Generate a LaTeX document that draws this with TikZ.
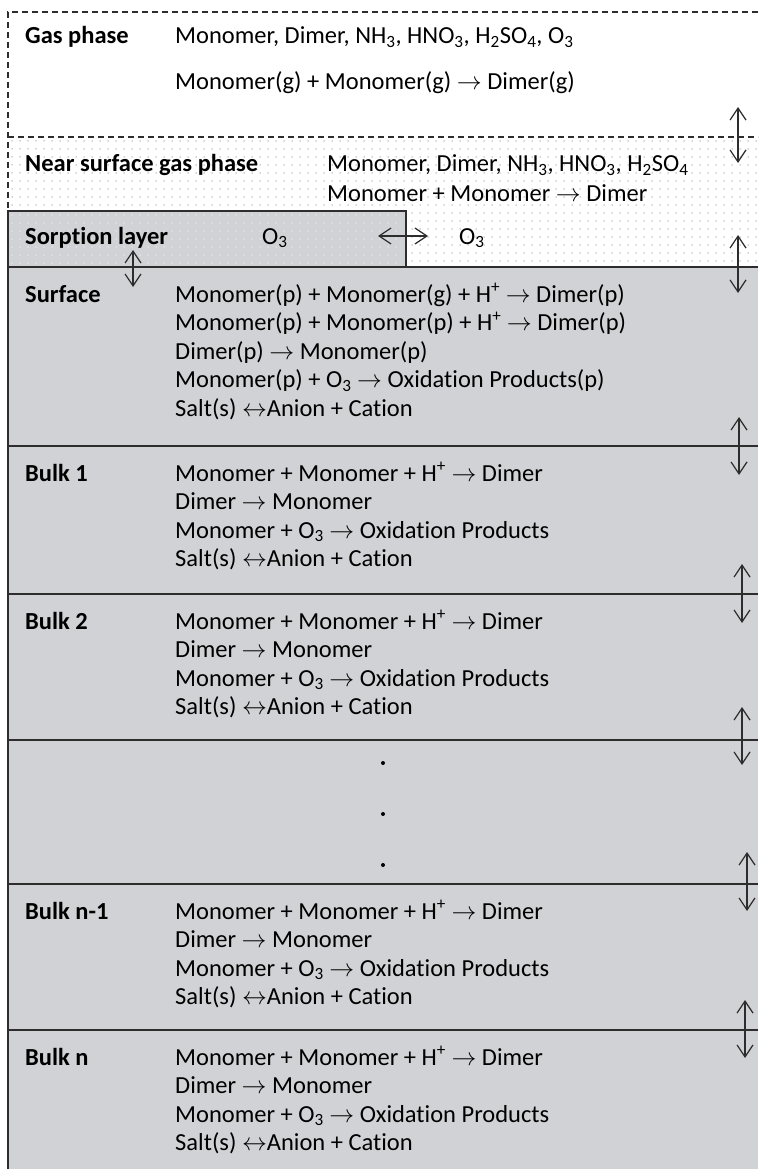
\documentclass[tikz,border=0pt]{standalone}
\usepackage{fontspec}
\setmainfont{Carlito}[Ligatures=NoCommon]
\usetikzlibrary{arrows.meta}
\definecolor{fillgray}{RGB}{209,210,213}
\definecolor{linegray}{RGB}{45,45,45}
\definecolor{dotgray}{RGB}{170,170,170}
\definecolor{dotlight}{RGB}{236,236,238}
\newcommand{\rarr}{$\rightarrow$}
\newcommand{\lrarr}{$\leftrightarrow$}
\newcommand{\sub}[1]{\textsubscript{#1}}
\newcommand{\sups}[1]{\textsuperscript{#1}}
\begin{document}
\begin{tikzpicture}[x=1pt,y=-1pt,
  txt/.style={anchor=base west,inner sep=0pt,text height=17pt,text depth=5pt,font=\fontsize{24.5}{28}\selectfont},
  lbl/.style={txt,font=\fontsize{24.5}{28}\selectfont\bfseries},
  dashln/.style={draw=linegray,line width=1.2pt,dash pattern=on 6pt off 4pt},
  solidln/.style={draw=linegray,line width=1.6pt},
  dbl/.style={{Straight Barb[length=12pt,width=16pt]}-{Straight Barb[length=12pt,width=16pt]},line width=1.2pt,draw=linegray},
  dotmark/.style={inner sep=0pt,minimum size=4pt,circle,fill=black}]
\useasboundingbox (0,0) rectangle (758,1169);
\fill[white] (0,0) rectangle (758,1169);
% dotted near-surface region
\foreach \i in {0,...,93} {\foreach \j in {0,...,15} {\fill[dotgray] (12+8*\i,141+8*\j) circle (0.75);}}
% condensed phase fill
\fill[fillgray] (8,267) rectangle (758,1169);
% sorption box
\fill[fillgray] (8,211) rectangle (406,267);
\foreach \i in {0,...,48} {\foreach \j in {0,...,6} {\fill[dotlight] (12+8*\i,215+8*\j) circle (0.75);}}
\draw[solidln] (8,211) rectangle (406,267);
% borders
\draw[dashln] (758,12) -- (8,12) -- (8,211);
\draw[dashln] (8,137) -- (758,137);
\draw[solidln] (8,211) -- (8,1169);
\foreach \yy in {267,446,594,740,884,1030} {\draw[solidln] (8,\yy) -- (758,\yy);}
% Gas phase
\node[lbl] (gl) at (25,44) {Gas phase};
\node[txt] (g1) at (175,44) {Monomer, Dimer, NH\sub{3}, HNO\sub{3}, H\sub{2}SO\sub{4}, O\sub{3}};
\node[txt] (g2) at (175,90) {Monomer(g) + Monomer(g) \rarr{} Dimer(g)};
% Near surface
\node[lbl] (nl) at (25,172) {Near surface gas phase};
\node[txt] (n1) at (327,172) {Monomer, Dimer, NH\sub{3}, HNO\sub{3}, H\sub{2}SO\sub{4}};
\node[txt] (n2) at (327,201) {Monomer + Monomer \rarr{} Dimer};
% Sorption
\node[lbl] (sl) at (25,244) {Sorption layer};
\node[txt] (so1) at (262,244) {O\sub{3}};
\node[txt] (so2) at (459,244) {O\sub{3}};
\coordinate (hl) at (378,236);
\coordinate (hr) at (428,236);
\draw[dbl] (hl) -- (hr);
\coordinate (svt) at (133,250);
\coordinate (svb) at (133,287);
\draw[dbl] (svt) -- (svb);
% Surface
\node[lbl] (sfl) at (25,302) {Surface};
\node[txt] (sf1) at (175,302) {Monomer(p) + Monomer(g) + H\sups{+} \rarr{} Dimer(p)};
\node[txt] (sf2) at (175,330.5) {Monomer(p) + Monomer(p) + H\sups{+} \rarr{} Dimer(p)};
\node[txt] (sf3) at (175,359) {Dimer(p) \rarr{} Monomer(p)};
\node[txt] (sf4) at (175,387.5) {Monomer(p) + O\sub{3} \rarr{} Oxidation Products(p)};
\node[txt] (sf5) at (175,416) {Salt(s) \lrarr{}Anion + Cation};
% Bulk layers
\foreach \nm/\lab/\top in {b1/Bulk 1/446,b2/Bulk 2/594,b3/Bulk n-1/884,b4/Bulk n/1030} {
  \node[lbl] (\nm l) at (25,\top+35) {\lab};
  \node[txt] (\nm a) at (175,\top+35) {Monomer + Monomer + H\sups{+} \rarr{} Dimer};
  \node[txt] (\nm b) at (175,\top+63.5) {Dimer \rarr{} Monomer};
  \node[txt] (\nm c) at (175,\top+92) {Monomer + O\sub{3} \rarr{} Oxidation Products};
  \node[txt] (\nm d) at (175,\top+120.5) {Salt(s) \lrarr{}Anion + Cation};
}
% dots
\node[dotmark] (d1) at (383,763) {};
\node[dotmark] (d2) at (383,814) {};
\node[dotmark] (d3) at (383,865) {};
% right-side exchange arrows
\foreach \nm/\xx/\ya/\yb in {r1/738/107/163,r2/738/235/293,r3/739/417/475,r4/742/564/623,r5/742/707/765,r6/747/852/911,r7/745/1000/1058} {
  \coordinate (\nm t) at (\xx,\ya);
  \coordinate (\nm b) at (\xx,\yb);
  \draw[dbl] (\nm t) -- (\nm b);
}
\end{tikzpicture}
\end{document}
